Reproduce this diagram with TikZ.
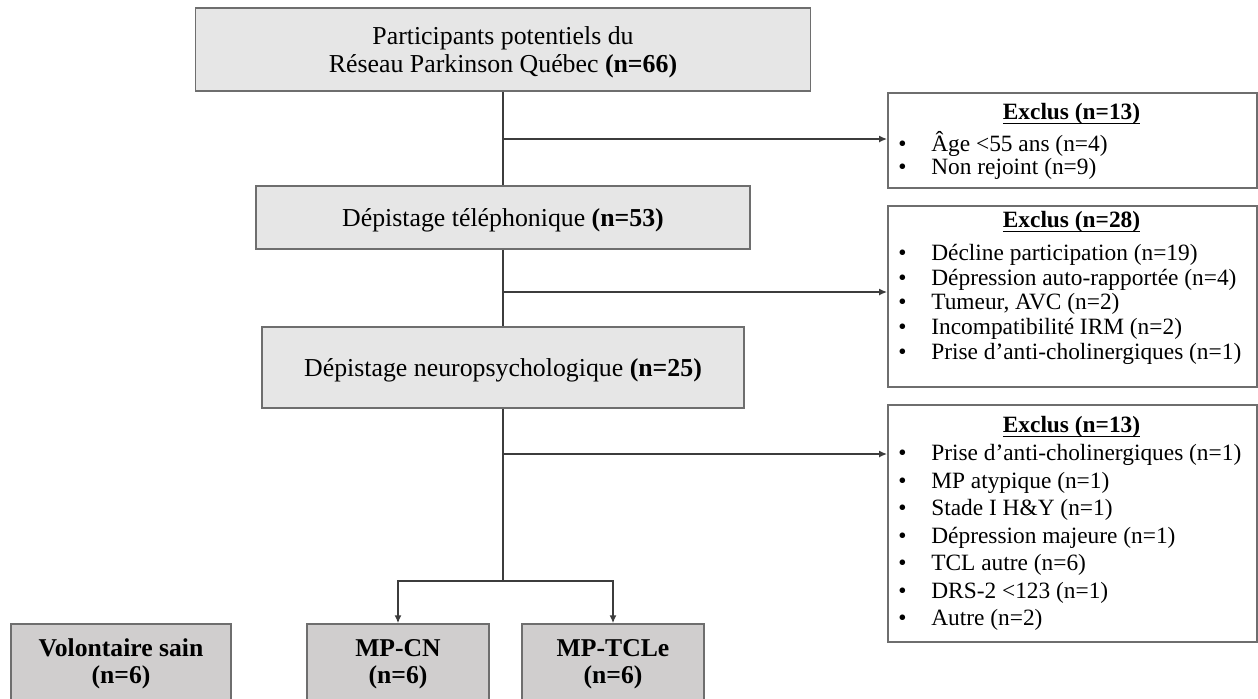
\documentclass[tikz,border=0pt]{standalone}
\usepackage{fontspec}
\setmainfont{Liberation Serif}
\usepackage{tikz}
\usetikzlibrary{arrows.meta}

\definecolor{grisclair}{RGB}{230,230,230}
\definecolor{grisfonce}{RGB}{208,206,206}
\definecolor{bord}{RGB}{110,110,110}
\definecolor{ligne}{RGB}{60,60,60}
\newcommand{\souligne}[1]{\underline{\raisebox{0pt}[\height][1pt]{#1}}}

\begin{document}
\begin{tikzpicture}[x=0.02cm,y=-0.02cm,
    etape/.style={draw=bord,line width=0.9pt,fill=grisclair,align=center,inner sep=0pt,
      text depth=0pt,font=\fontsize{14.7}{15.9}\selectfont},
    groupe/.style={draw=bord,line width=0.9pt,fill=grisfonce,align=center,inner sep=0pt,
      minimum height=1.6cm,font=\bfseries\fontsize{14.6}{15.3}\selectfont},
    exclbox/.style={draw=bord,line width=0.9pt,fill=white,anchor=north west,inner sep=0pt,
      minimum width=7.38cm},
    titre/.style={anchor=base,inner sep=0pt,font=\bfseries\fontsize{13.3}{15}\selectfont},
    puce/.style={anchor=west,inner sep=0pt,text height=0.7em,text depth=0.2em,
      font=\fontsize{13.3}{15}\selectfont},
    liaison/.style={draw=ligne,line width=0.8pt},
    fleche/.style={draw=ligne,line width=0.8pt,-{Latex[length=4.5pt,width=4pt]}}]
  \useasboundingbox (0,0) rectangle (1258,698);

  % etapes du recrutement
  \node[etape,minimum width=12.3cm,minimum height=1.66cm] (recrut) at (503,49.5)
    {Participants potentiels du\\Réseau Parkinson Québec \textbf{(n=66)}};
  \node[etape,minimum width=9.88cm,minimum height=1.26cm] (tel) at (503,217.5)
    {Dépistage téléphonique \textbf{(n=53)}};
  \node[etape,minimum width=9.64cm,minimum height=1.62cm] (neuro) at (503,367.5)
    {Dépistage neuropsychologique \textbf{(n=25)}};

  % exclusions
  \node[exclbox,minimum height=1.9cm] (excl1) at (887,92) {};
  \node[titre] (excl1t) at (1071.5,119) {\souligne{Exclus (n=13)}};
  \foreach \txt [count=\i] in {Âge <55 ans (n=4), Non rejoint (n=9)}
    \node[puce] (excl1-\i) at (898,{147+23*(\i-1)}) {\makebox[0.66cm][l]{\textbullet}\txt};

  \node[exclbox,minimum height=3.62cm] (excl2) at (887,205) {};
  \node[titre] (excl2t) at (1071.5,227) {\souligne{Exclus (n=28)}};
  \foreach \txt [count=\i] in {Décline participation (n=19), Dépression auto-rapportée (n=4),
      {Tumeur, AVC (n=2)}, Incompatibilité IRM (n=2), Prise d’anti-cholinergiques (n=1)}
    \node[puce] (excl2-\i) at (898,{256+24.75*(\i-1)}) {\makebox[0.66cm][l]{\textbullet}\txt};

  \node[exclbox,minimum height=4.74cm] (excl3) at (887,404) {};
  \node[titre] (excl3t) at (1071.5,432) {\souligne{Exclus (n=13)}};
  \foreach \txt [count=\i] in {Prise d’anti-cholinergiques (n=1), MP atypique (n=1),
      Stade I H\&Y (n=1), Dépression majeure (n=1), TCL autre (n=6), DRS-2 <123 (n=1), Autre (n=2)}
    \node[puce] (excl3-\i) at (898,{456.5+27.5*(\i-1)}) {\makebox[0.66cm][l]{\textbullet}\txt};

  % groupes
  \node[groupe,minimum width=4.4cm] (sain) at (121,664) {Volontaire sain\\(n=6)};
  \node[groupe,minimum width=3.64cm] (cn) at (398,664) {MP-CN\\(n=6)};
  \node[groupe,minimum width=3.64cm] (tcle) at (613,664) {MP-TCLe\\(n=6)};

  % liaisons
  \coordinate (j1) at (503,139);
  \coordinate (j2) at (503,292);
  \coordinate (j3) at (503,454);
  \coordinate (fourche) at (503,581);
  \draw[liaison] (recrut) -- (tel);
  \draw[liaison] (tel) -- (neuro);
  \draw[liaison] (neuro) -- (fourche);
  \draw[fleche] (j1) -- (j1 -| excl1.west);
  \draw[fleche] (j2) -- (j2 -| excl2.west);
  \draw[fleche] (j3) -- (j3 -| excl3.west);
  \draw[fleche] (fourche) -| (cn);
  \draw[fleche] (fourche) -| (tcle);
\end{tikzpicture}
\end{document}
